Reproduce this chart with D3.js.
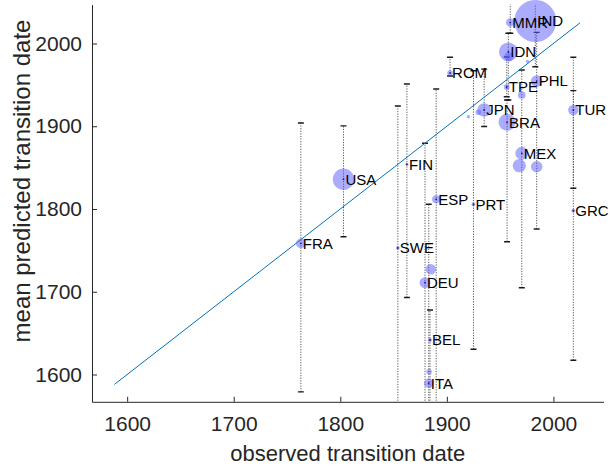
<!DOCTYPE html>
<html>
<head>
<meta charset="utf-8">
<script src="https://cdn.jsdelivr.net/npm/d3@7"></script>
<style>
  html, body { margin: 0; padding: 0; background: #fff; }
  svg { display: block; font-family: "Liberation Sans", Arial, Helvetica, sans-serif; }
</style>
</head>
<body>
<svg id="chart" width="610" height="468"></svg>
<script>
// Countries with an observed transition date, the mean of the predicted dates,
// the range (min/max) of predictions and population (millions) for bubble size.
const countries = ["FRA", "USA", "SWE", "FIN", "ESP", "DEU", "BEL", "ITA", "ROM", "PRT",
                   "JPN", "BRA", "TPE", "IDN", "MMR", "IND", "PHL", "MEX", "TUR", "GRC"];
const observed  = [1763, 1803, 1854, 1862.5, 1890, 1879.5, 1884.2, 1883, 1903, 1925,
                   1935, 1956.5, 1956.2, 1957.7, 1959.5, 1983, 1984.3, 1970.3, 2018.7, 2018.7];
const predMean  = [1758.5, 1836, 1753, 1854, 1811.7, 1711, 1641.7, 1589.4, 1964.3, 1805.7,
                   1919.6, 1904.8, 1947.4, 1990, 2025.3, 2027.2, 1954.6, 1867.3, 1919.6, 1798];
const predLow   = [1579, 1766.5, 1540, 1693, 1540, 1540, 1540, 1540, 1960.7, 1630.5,
                   1899.7, 1760.5, 1935.7, 1931.8, 2012.4, 1971.9, 1775.8, 1704.9, 1825, 1617.3];
const predHigh  = [1904, 1900.5, 1924.5, 1951, 1945, 1879.4, 1678, 1805.7, 1983.3, 1967,
                   1969, 1931.8, 1983.7, 2012.4, 2070, 2070, 2013.4, 1968, 1983.4, 1943];
const population = [65, 310, 9.4, 5.4, 46, 82, 11, 60, 21, 10.6,
                    127, 195, 23, 240, 50, 1200, 93, 113, 73, 11];

// Further countries shown without labels or ranges.
const extraObserved   = [1884.9, 1883.3, 1920.2, 1929.6, 1958.3, 1970.3, 1975.7, 1968, 1984.3];
const extraPredMean   = [1727.1, 1603.4, 1911.5, 1916.9, 1984, 1937.8, 1978.3, 1852.3, 1851.1];
const extraPopulation = [75, 20, 8, 22, 60, 40, 8, 120, 90];

// Reference line (observed = predicted) and axis ticks.
const identityRange = [1588, 2025];
const axisDomain = [1567, 2047];
const tickValues = [1600, 1700, 1800, 1900, 2000];
const xLabel = "observed transition date";
const yLabel = "mean predicted transition date";

const svg = d3.select("#chart");
const plotLeft = 92, plotRight = 603.5, plotTop = 4.6, plotBottom = 401.8;

const x = d3.scaleLinear().domain(axisDomain).range([plotLeft, plotRight]);
const y = d3.scaleLinear().domain(axisDomain).range([plotBottom, plotTop]);
const r = d3.scaleSqrt().domain([0, 1200]).range([0, 21]);

const axisColor = "#262626";

svg.append("defs").append("clipPath").attr("id", "plotClip")
  .append("rect").attr("x", plotLeft).attr("y", plotTop)
  .attr("width", plotRight - plotLeft).attr("height", plotBottom - plotTop);

const rows = countries.map((c, i) => ({
  name: c, obs: observed[i], mean: predMean[i], lo: predLow[i], hi: predHigh[i], pop: population[i]
}));
const extras = extraObserved.map((o, i) => ({ obs: o, mean: extraPredMean[i], pop: extraPopulation[i] }));

// Prediction ranges: dotted stems with short caps
const bars = svg.append("g").attr("clip-path", "url(#plotClip)");
bars.selectAll("line.stem").data(rows).join("line")
  .attr("class", "stem")
  .attr("x1", d => x(d.obs)).attr("x2", d => x(d.obs))
  .attr("y1", d => y(d.lo)).attr("y2", d => y(d.hi))
  .attr("stroke", "#444").attr("stroke-width", 0.9)
  .attr("stroke-dasharray", "1.2,1.4");
const capW = 3;
["lo", "hi"].forEach(k => {
  bars.selectAll("line.cap-" + k).data(rows).join("line")
    .attr("class", "cap-" + k)
    .attr("x1", d => x(d.obs) - capW).attr("x2", d => x(d.obs) + capW)
    .attr("y1", d => y(d[k])).attr("y2", d => y(d[k]))
    .attr("stroke", "#1a1a1a").attr("stroke-width", 1.4);
});

// Identity line
svg.append("line")
  .attr("x1", x(identityRange[0])).attr("y1", y(identityRange[0]))
  .attr("x2", x(identityRange[1])).attr("y2", y(identityRange[1]))
  .attr("stroke", "#0072BD").attr("stroke-width", 1);

// Bubbles sized by population
const bubbleFill = "#5a5aff";
svg.append("g").selectAll("circle").data(extras).join("circle")
  .attr("cx", d => x(d.obs)).attr("cy", d => y(d.mean)).attr("r", d => r(d.pop))
  .attr("fill", bubbleFill).attr("fill-opacity", 0.5);
svg.append("g").selectAll("circle").data(rows).join("circle")
  .attr("cx", d => x(d.obs)).attr("cy", d => y(d.mean)).attr("r", d => Math.max(r(d.pop), 1.6))
  .attr("fill", bubbleFill).attr("fill-opacity", 0.5);
svg.append("g").selectAll("circle").data(rows).join("circle")
  .attr("cx", d => x(d.obs)).attr("cy", d => y(d.mean)).attr("r", 0.9)
  .attr("fill", "#1c1c8c");

// Country labels
svg.append("g").selectAll("text").data(rows).join("text")
  .attr("x", d => x(d.obs) + 2).attr("y", d => y(d.mean))
  .attr("dy", "0.36em")
  .attr("font-size", 15).attr("fill", "#000")
  .text(d => d.name);

// Axes with inward ticks
const xAxis = svg.append("g").attr("transform", `translate(0,${plotBottom})`)
  .call(d3.axisBottom(x).tickValues(tickValues).tickFormat(d3.format("d"))
    .tickSizeInner(-5).tickSizeOuter(0).tickPadding(14));
const yAxis = svg.append("g").attr("transform", `translate(${plotLeft},0)`)
  .call(d3.axisLeft(y).tickValues(tickValues).tickFormat(d3.format("d"))
    .tickSizeInner(-5).tickSizeOuter(0).tickPadding(10));
[xAxis, yAxis].forEach(g => {
  g.select(".domain").attr("stroke", axisColor).attr("stroke-width", 1);
  g.selectAll(".tick line").attr("stroke", axisColor).attr("stroke-width", 1);
  g.selectAll(".tick text").attr("fill", axisColor)
    .attr("font-size", 21).attr("font-family", "Liberation Sans, Arial, sans-serif");
});

// Axis titles
svg.append("text")
  .attr("x", (plotLeft + plotRight) / 2).attr("y", 461)
  .attr("text-anchor", "middle").attr("font-size", 22).attr("fill", axisColor)
  .text(xLabel);
svg.append("text")
  .attr("transform", "translate(30,181) rotate(-90)")
  .attr("text-anchor", "middle").attr("font-size", 24).attr("fill", axisColor)
  .text(yLabel);
</script>
</body>
</html>
